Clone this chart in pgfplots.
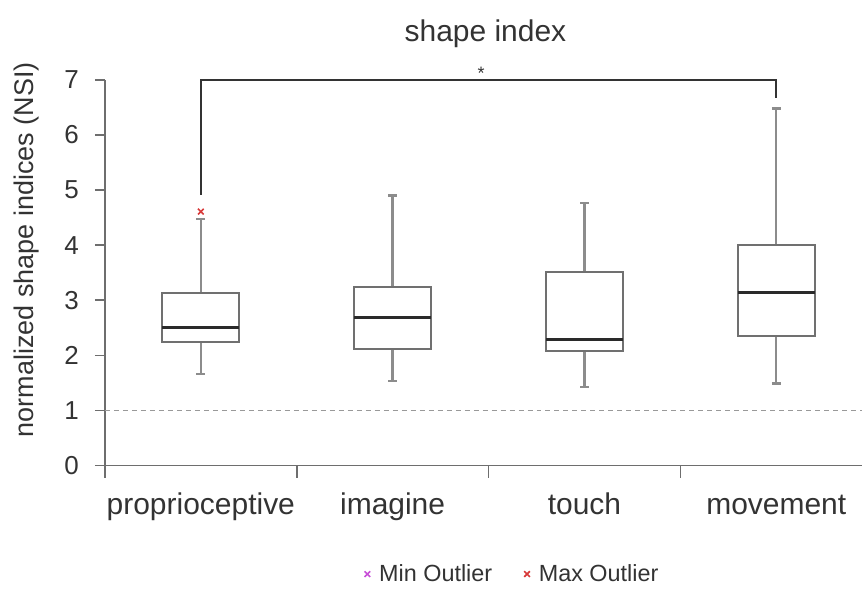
\documentclass[border=0pt]{standalone}
\usepackage{fontspec}
\setmainfont{Liberation Sans}
\usepackage{pgfplots}
\pgfplotsset{compat=1.18}
\usepgfplotslibrary{statistics}
\definecolor{axgray}{HTML}{6E6E6E}
\definecolor{boxgray}{HTML}{707070}
\definecolor{whiskgray}{HTML}{8C8C8C}
\definecolor{medgray}{HTML}{2A2A2A}
\definecolor{txt}{HTML}{333333}
\definecolor{minout}{HTML}{C84FD8}
\definecolor{maxout}{HTML}{D83A3A}
\begin{document}
\begin{tikzpicture}
\begin{axis}[
  scale only axis, width=379pt, height=193pt,
  xmin=0.5, xmax=4.448, ymin=0, ymax=7,
  axis x line=bottom, axis y line=left,
  axis line style={-, axgray, line width=0.8pt},
  clip=false,
  xtick={1,2,3,4},
  xticklabels={proprioceptive,imagine,touch,movement},
  minor xtick={0.5,1.5,2.5,3.5},
  major x tick style={draw=none},
  minor x tick style={axgray, line width=0.8pt},
  minor tick length=6pt,
  ytick={0,1,2,3,4,5,6,7},
  major tick length=5pt,
  y tick style={axgray, line width=0.8pt},
  tick align=outside,
  xticklabel style={font=\fontsize{15}{18}\selectfont, text=txt, anchor=base, yshift=-19.5pt},
  yticklabel style={font=\fontsize{13}{15}\selectfont, text=txt, xshift=-4.5pt},
  /pgf/number format/assume math mode=true,
  boxplot/draw direction=y,
  boxplot/every box/.style={draw=boxgray, line width=1pt},
  boxplot/every whisker/.style={draw=whiskgray, line width=1.2pt},
  boxplot/every median/.style={draw=medgray, line width=1.5pt},
  legend style={at={(axis cs:2.63,-1.97)}, anchor=center, draw=none, fill=none,
    font=\fontsize{11.7}{14}\selectfont, text=txt, inner sep=0pt,
    /tikz/every odd column/.append style={column sep=2.5pt},
    /tikz/every even column/.append style={column sep=14pt}},
  legend columns=2,
  legend image code/.code={\draw[#1] plot coordinates {(0pt,0pt)};},
]
% boxplots
\addplot[forget plot, draw=boxgray, mark=x, mark size=2pt, mark options={maxout, line width=0.8pt, solid},
  boxplot prepared={draw position=1, median=2.50, upper quartile=3.13, lower quartile=2.25,
  upper whisker=4.48, lower whisker=1.66, box extend=0.4, whisker extend=0.045}]
  coordinates {(1,4.61)};
\addplot[forget plot, draw=boxgray,
  boxplot prepared={draw position=2, median=2.68, upper quartile=3.24, lower quartile=2.11,
  upper whisker=4.90, lower whisker=1.54, box extend=0.4, whisker extend=0.045}]
  coordinates {};
\addplot[forget plot, draw=boxgray,
  boxplot prepared={draw position=3, median=2.28, upper quartile=3.51, lower quartile=2.08,
  upper whisker=4.77, lower whisker=1.43, box extend=0.4, whisker extend=0.045}]
  coordinates {};
\addplot[forget plot, draw=boxgray,
  boxplot prepared={draw position=4, median=3.14, upper quartile=4.00, lower quartile=2.36,
  upper whisker=6.48, lower whisker=1.49, box extend=0.4, whisker extend=0.045}]
  coordinates {};
% reference line at 1
\addplot[forget plot, color=black!40, dash pattern=on 2.5pt off 2pt, line width=0.6pt]
  coordinates {(0.5,1) (4.448,1)};
% significance bracket
\addplot[forget plot, color=txt, line width=0.8pt]
  coordinates {(1,4.92) (1,7) (4,7) (4,6.68)};
\node[font=\fontsize{9}{10}\selectfont, text=txt, anchor=base] at (axis cs:2.462,7.0) {*};
\node[font=\fontsize{15}{18}\selectfont, text=txt] at (axis cs:2.484,7.83) {shape index};
\node[rotate=90, font=\fontsize{13.5}{16}\selectfont, text=txt] at ([xshift=-39pt]axis cs:0.5,3.917) {normalized shape indices (NSI)};
% legend
\addlegendimage{mark=x, mark size=2pt, mark options={minout, line width=0.8pt, solid}}
\addlegendimage{mark=x, mark size=2pt, mark options={maxout, line width=0.8pt, solid}}
\legend{Min Outlier, Max Outlier}
\end{axis}
\path ([shift={(-52.5pt,-60pt)}]current axis.south west) rectangle ([shift={(0pt,40pt)}]current axis.north east);
\end{tikzpicture}
\end{document}
